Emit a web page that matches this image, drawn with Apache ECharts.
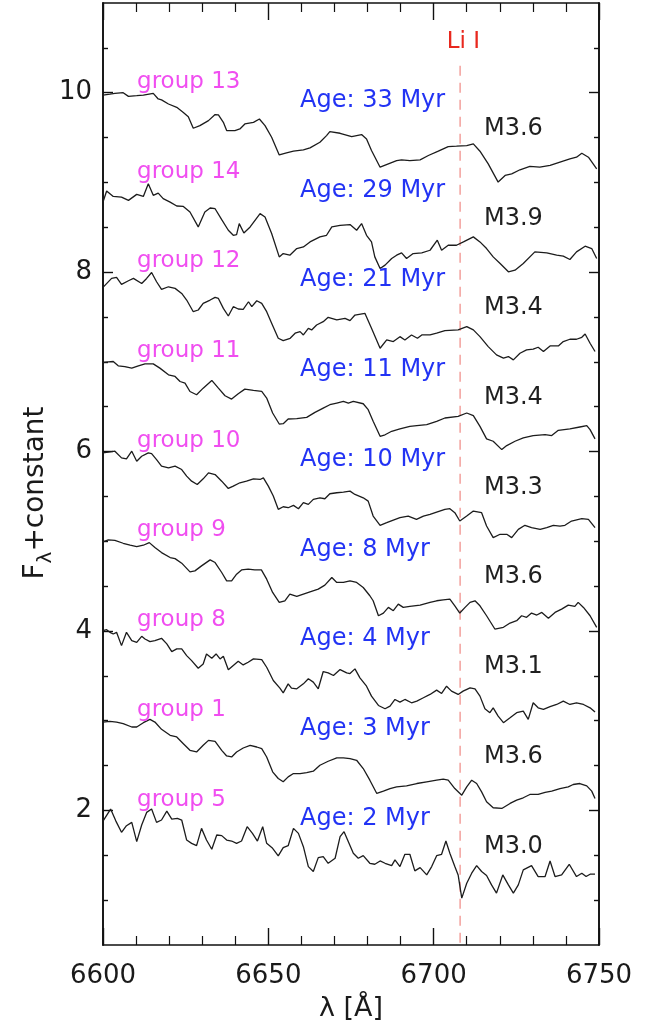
<!DOCTYPE html>
<html>
<head>
<meta charset="utf-8">
<script src="https://cdn.jsdelivr.net/npm/echarts@6.0.0/dist/echarts.min.js"></script>
<style>
  html, body { margin: 0; padding: 0; background: #ffffff; }
  #chart { width: 657px; height: 1027px; }
</style>
</head>
<body>
<div id="chart"></div>
<script>
// ---- Spectra (wavelength in Å, flux + vertical offset) ----
const wave13 = [6600.0,6602.1,6603.6,6606.1,6607.7,6610.2,6612.2,6615.2,6616.7,6617.7,6619.8,6622.3,6624.3,6625.8,6627.3,6629.3,6631.9,6633.9,6634.9,6636.4,6637.4,6639.9,6641.4,6642.9,6645.5,6647.3,6649.0,6651.0,6653.3,6655.5,6657.6,6660.6,6662.6,6665.6,6667.6,6668.6,6671.7,6675.2,6678.2,6679.7,6681.2,6683.8,6686.3,6688.8,6690.3,6692.8,6695.9,6698.4,6701.4,6704.4,6706.9,6710.0,6712.0,6714.0,6716.5,6719.5,6721.6,6723.6,6726.1,6729.1,6732.1,6735.2,6738.2,6741.2,6743.2,6744.8,6746.8,6749.3];
const flux13 = [9.974,9.985,9.993,10.0,9.959,9.967,9.974,9.993,9.93,9.92,9.874,9.837,9.78,9.733,9.604,9.633,9.689,9.756,9.752,9.67,9.578,9.578,9.596,9.652,9.67,9.707,9.633,9.504,9.307,9.33,9.348,9.363,9.385,9.448,9.522,9.567,9.548,9.511,9.533,9.485,9.356,9.17,9.207,9.244,9.252,9.244,9.252,9.3,9.348,9.4,9.404,9.411,9.43,9.348,9.207,9.004,9.078,9.096,9.141,9.178,9.17,9.189,9.226,9.263,9.281,9.326,9.281,9.152];

const wave14 = [6600.0,6601.1,6603.1,6605.6,6607.7,6610.2,6612.2,6613.7,6615.2,6616.7,6618.2,6620.3,6622.3,6624.3,6626.3,6628.8,6630.8,6632.4,6633.9,6635.9,6637.9,6639.4,6640.4,6641.2,6642.6,6644.5,6647.5,6649.0,6651.0,6653.3,6654.5,6656.5,6658.6,6660.6,6662.6,6665.6,6667.6,6669.2,6671.7,6674.7,6676.7,6678.2,6679.7,6681.2,6682.2,6683.8,6685.3,6687.3,6688.8,6690.3,6691.8,6693.8,6696.4,6698.9,6701.1,6702.4,6704.4,6706.9,6709.0,6712.0,6714.0,6716.0,6718.0,6720.1,6722.6,6724.6,6727.1,6730.6,6734.2,6737.2,6739.2,6741.2,6743.2,6745.8,6747.8,6749.3];
const flux14 = [8.781,8.904,8.844,8.837,8.8,8.867,8.844,8.985,8.856,8.881,8.819,8.781,8.737,8.733,8.67,8.504,8.67,8.715,8.707,8.585,8.467,8.411,8.419,8.541,8.437,8.504,8.652,8.615,8.43,8.17,8.207,8.189,8.263,8.281,8.337,8.393,8.411,8.504,8.522,8.53,8.467,8.541,8.411,8.337,8.17,8.041,8.078,8.152,8.189,8.215,8.152,8.207,8.215,8.244,8.356,8.244,8.3,8.3,8.337,8.393,8.337,8.263,8.17,8.096,8.004,8.022,8.096,8.226,8.215,8.189,8.178,8.141,8.226,8.289,8.263,8.152];

const wave12 = [6600.0,6602.6,6604.1,6605.6,6607.7,6609.2,6611.7,6613.2,6614.7,6616.2,6617.7,6619.8,6621.8,6623.8,6625.3,6627.3,6628.8,6630.3,6632.4,6633.9,6634.9,6636.4,6637.9,6639.4,6640.9,6642.4,6644.0,6645.0,6646.5,6648.0,6649.5,6651.0,6653.0,6654.5,6656.6,6658.1,6659.6,6660.6,6662.1,6663.1,6664.6,6666.6,6668.1,6670.7,6673.2,6674.7,6676.2,6679.2,6681.2,6683.8,6685.8,6687.8,6689.8,6691.3,6693.3,6695.1,6696.4,6698.9,6700.9,6703.4,6707.4,6710.0,6712.0,6714.0,6716.5,6719.0,6721.1,6722.6,6724.1,6726.1,6728.1,6730.1,6731.6,6733.2,6735.2,6737.7,6739.2,6741.2,6743.2,6744.8,6745.8,6747.3,6748.8];
const flux12 = [7.83,7.93,7.941,7.863,7.904,7.93,7.874,7.93,7.996,7.893,7.807,7.837,7.819,7.763,7.689,7.559,7.578,7.652,7.689,7.719,7.707,7.596,7.511,7.615,7.589,7.585,7.67,7.615,7.681,7.652,7.559,7.43,7.263,7.237,7.263,7.319,7.337,7.3,7.374,7.356,7.411,7.448,7.496,7.467,7.485,7.459,7.522,7.541,7.374,7.152,7.244,7.226,7.281,7.244,7.3,7.263,7.3,7.3,7.319,7.348,7.356,7.393,7.356,7.281,7.17,7.078,7.041,7.059,7.022,7.096,7.133,7.141,7.163,7.115,7.178,7.178,7.226,7.252,7.252,7.274,7.311,7.207,7.115];

const wave11 = [6600.0,6601.6,6603.1,6604.6,6606.6,6608.7,6610.7,6612.7,6615.2,6617.2,6619.8,6621.8,6623.3,6624.8,6626.3,6628.3,6630.3,6632.9,6634.9,6636.9,6638.9,6640.9,6642.9,6645.5,6648.0,6649.5,6651.3,6653.3,6654.5,6656.0,6658.6,6661.6,6664.1,6666.6,6668.6,6670.7,6672.7,6674.2,6675.7,6678.7,6680.2,6681.7,6683.8,6685.3,6687.3,6689.8,6692.8,6694.9,6697.9,6700.9,6703.4,6707.4,6710.0,6712.0,6714.0,6716.0,6718.0,6720.6,6722.1,6724.6,6727.1,6730.1,6733.7,6735.7,6737.7,6741.2,6744.2,6746.3,6747.3,6748.8];
const flux11 = [6.993,7.0,7.004,6.956,6.948,6.93,6.956,6.978,6.978,6.93,6.856,6.837,6.781,6.763,6.67,6.633,6.707,6.793,6.707,6.622,6.585,6.644,6.696,6.681,6.67,6.596,6.43,6.307,6.311,6.363,6.367,6.381,6.437,6.485,6.522,6.541,6.559,6.541,6.559,6.533,6.467,6.337,6.17,6.187,6.226,6.252,6.281,6.289,6.3,6.337,6.374,6.393,6.43,6.4,6.281,6.141,6.115,6.022,6.067,6.115,6.152,6.178,6.189,6.178,6.237,6.252,6.274,6.289,6.244,6.141];

const wave10 = [6600.0,6601.6,6603.6,6605.6,6607.1,6608.7,6610.2,6611.7,6613.7,6614.7,6616.2,6617.7,6619.8,6621.8,6623.8,6625.3,6626.8,6628.5,6630.3,6631.9,6633.9,6635.9,6637.9,6639.4,6641.4,6643.4,6645.5,6647.5,6648.5,6650.0,6651.5,6653.0,6654.5,6656.0,6657.6,6659.1,6660.6,6662.1,6663.6,6665.6,6667.1,6668.6,6670.7,6672.7,6674.7,6676.2,6678.7,6680.2,6681.7,6683.8,6685.8,6687.8,6689.8,6692.3,6694.8,6696.9,6698.9,6700.9,6703.4,6704.9,6706.4,6707.9,6710.0,6712.0,6714.5,6716.0,6718.0,6720.1,6722.1,6723.6,6725.6,6727.6,6729.6,6732.2,6734.2,6736.2,6738.2,6739.7,6741.7,6744.8,6746.8,6748.8];
const flux10 = [5.985,5.993,6.004,5.93,5.919,6.004,5.893,5.948,5.985,5.978,5.911,5.837,5.819,5.837,5.8,5.726,5.67,5.633,5.696,5.763,5.744,5.67,5.589,5.615,5.652,5.67,5.696,5.689,5.707,5.615,5.504,5.356,5.385,5.374,5.4,5.363,5.43,5.411,5.467,5.485,5.474,5.53,5.541,5.548,5.559,5.522,5.485,5.448,5.281,5.178,5.207,5.237,5.263,5.281,5.244,5.281,5.3,5.326,5.356,5.363,5.319,5.226,5.281,5.337,5.319,5.17,5.041,5.078,5.078,5.041,5.133,5.178,5.152,5.133,5.152,5.178,5.17,5.178,5.226,5.252,5.244,5.152];

const wave9 = [6600.0,6601.6,6603.6,6606.1,6608.2,6610.2,6612.2,6614.0,6615.7,6617.7,6620.3,6621.8,6623.8,6626.3,6627.8,6629.8,6632.4,6633.9,6635.9,6637.4,6638.9,6640.4,6641.9,6643.9,6645.9,6647.9,6649.5,6651.3,6653.3,6655.0,6656.5,6658.6,6660.6,6662.6,6665.1,6667.1,6669.2,6670.7,6672.7,6674.7,6676.7,6678.7,6680.7,6681.7,6683.3,6684.8,6686.3,6687.8,6689.3,6690.8,6692.8,6695.9,6698.9,6700.9,6702.9,6704.9,6706.4,6707.9,6709.5,6711.0,6712.5,6714.0,6716.0,6718.5,6721.1,6723.1,6725.1,6726.6,6728.1,6729.6,6731.2,6732.7,6734.7,6736.7,6738.7,6740.7,6742.7,6743.7,6745.3,6747.3,6749.3];
const flux9 = [4.993,5.015,5.011,4.978,4.956,4.941,4.956,4.985,4.93,4.874,4.819,4.807,4.756,4.659,4.67,4.726,4.793,4.763,4.652,4.559,4.559,4.633,4.681,4.689,4.681,4.681,4.578,4.43,4.319,4.337,4.411,4.385,4.411,4.437,4.467,4.511,4.596,4.541,4.541,4.559,4.541,4.485,4.393,4.337,4.17,4.2,4.263,4.226,4.3,4.263,4.274,4.289,4.319,4.337,4.348,4.356,4.281,4.2,4.263,4.319,4.337,4.281,4.17,4.022,4.041,4.089,4.115,4.17,4.152,4.2,4.178,4.207,4.141,4.207,4.244,4.289,4.274,4.319,4.263,4.17,4.041];

const wave8 = [6600.0,6601.1,6602.1,6603.1,6604.1,6605.6,6607.1,6608.7,6610.2,6611.7,6612.7,6614.2,6615.7,6617.7,6619.3,6620.8,6622.3,6623.8,6625.3,6626.8,6628.8,6630.3,6631.3,6632.9,6634.2,6635.4,6636.4,6637.9,6639.4,6640.9,6642.4,6643.9,6645.5,6648.0,6649.5,6651.5,6653.5,6654.5,6656.0,6657.0,6658.6,6660.6,6662.1,6663.6,6665.1,6666.6,6668.1,6669.7,6671.7,6673.7,6674.7,6676.2,6677.7,6679.7,6681.2,6683.3,6685.3,6686.8,6688.3,6689.8,6691.3,6693.3,6694.9,6696.9,6698.9,6700.9,6702.4,6703.9,6705.4,6707.4,6708.9,6711.0,6712.5,6714.0,6715.5,6717.0,6718.0,6719.5,6721.1,6723.1,6725.1,6727.1,6728.6,6730.1,6731.6,6733.2,6735.2,6737.2,6739.2,6741.2,6743.2,6745.3,6747.3,6748.8];
const flux8 = [4.004,4.015,3.985,3.967,3.985,3.837,3.985,3.893,3.874,3.941,3.911,3.881,3.893,3.919,3.856,3.77,3.8,3.8,3.726,3.67,3.585,3.633,3.744,3.696,3.744,3.689,3.719,3.567,3.615,3.663,3.622,3.652,3.689,3.681,3.596,3.448,3.363,3.311,3.411,3.363,3.356,3.411,3.467,3.43,3.356,3.548,3.533,3.504,3.57,3.533,3.526,3.578,3.478,3.385,3.274,3.17,3.133,3.163,3.237,3.207,3.237,3.2,3.219,3.256,3.293,3.341,3.304,3.385,3.33,3.293,3.33,3.367,3.356,3.274,3.133,3.089,3.144,3.052,2.978,3.033,3.089,3.107,3.015,3.2,3.144,3.126,3.156,3.181,3.219,3.181,3.2,3.181,3.144,3.096];

const wave1 = [6600.0,6602.1,6604.1,6606.1,6608.7,6610.2,6612.2,6614.2,6615.7,6617.7,6620.3,6622.3,6624.3,6626.3,6628.3,6630.3,6631.9,6633.9,6635.9,6637.4,6638.9,6640.4,6642.4,6644.5,6646.5,6648.0,6649.5,6651.3,6653.0,6654.5,6656.0,6657.6,6659.6,6661.6,6663.6,6665.6,6668.1,6670.7,6672.7,6674.7,6676.7,6678.7,6680.7,6682.8,6684.8,6686.8,6688.8,6691.8,6694.9,6697.9,6700.9,6702.9,6704.4,6706.4,6708.5,6710.0,6711.5,6713.0,6714.5,6716.0,6718.0,6720.6,6723.1,6725.1,6727.1,6729.1,6731.6,6733.7,6735.7,6738.2,6740.7,6742.2,6744.2,6746.3,6747.8,6748.8];
const flux1 = [2.985,2.993,2.985,2.967,2.93,2.93,2.978,3.015,2.985,2.904,2.837,2.819,2.744,2.67,2.652,2.726,2.781,2.77,2.67,2.607,2.596,2.652,2.696,2.726,2.707,2.689,2.596,2.43,2.356,2.319,2.374,2.411,2.411,2.422,2.437,2.504,2.548,2.585,2.585,2.578,2.559,2.467,2.337,2.189,2.215,2.244,2.263,2.274,2.3,2.319,2.337,2.348,2.337,2.244,2.17,2.263,2.337,2.3,2.207,2.096,2.03,2.022,2.078,2.115,2.141,2.178,2.178,2.2,2.215,2.244,2.263,2.289,2.3,2.274,2.215,2.133];

const wave5 = [6600.0,6602.3,6603.9,6605.6,6607.1,6608.7,6610.2,6611.7,6613.2,6614.7,6616.2,6617.7,6619.3,6620.8,6622.5,6623.8,6625.3,6626.8,6628.3,6629.8,6631.3,6632.9,6634.4,6635.9,6637.4,6638.9,6640.4,6641.9,6643.6,6645.2,6646.7,6648.3,6649.5,6651.3,6653.0,6654.5,6656.0,6657.6,6659.1,6660.6,6662.1,6663.6,6665.1,6666.6,6668.1,6670.2,6671.7,6672.9,6674.2,6675.7,6677.2,6678.7,6680.7,6682.2,6683.8,6685.3,6687.3,6688.3,6689.8,6691.3,6692.8,6694.3,6695.9,6697.9,6699.4,6700.9,6702.4,6703.7,6704.9,6706.4,6707.4,6708.5,6710.0,6711.5,6713.0,6714.5,6716.0,6717.5,6719.0,6720.9,6722.6,6724.1,6725.6,6727.1,6729.6,6731.6,6733.7,6735.2,6736.7,6738.7,6741.0,6743.2,6744.8,6746.1,6747.3,6748.8];
const flux5 = [1.88,2.015,1.881,1.756,1.83,1.867,1.652,1.837,1.978,2.015,1.867,1.893,1.993,1.904,1.911,1.893,1.67,1.633,1.607,1.8,1.67,1.567,1.726,1.719,1.67,1.659,1.633,1.659,1.819,1.744,1.659,1.819,1.633,1.578,1.493,1.585,1.607,1.8,1.744,1.596,1.374,1.319,1.474,1.485,1.411,1.467,1.707,1.763,1.652,1.522,1.467,1.496,1.411,1.4,1.437,1.411,1.385,1.448,1.374,1.511,1.511,1.326,1.363,1.281,1.374,1.496,1.511,1.659,1.522,1.374,1.281,1.022,1.189,1.3,1.385,1.319,1.274,1.17,1.078,1.281,1.17,1.078,1.17,1.337,1.385,1.263,1.263,1.437,1.263,1.281,1.4,1.263,1.3,1.263,1.289,1.289];

// ---- Annotations, top to bottom ----
const groupNames = ['group 13', 'group 14', 'group 12', 'group 11', 'group 10', 'group 9', 'group 8', 'group 1', 'group 5'];
const ageLabels  = ['Age: 33 Myr', 'Age: 29 Myr', 'Age: 21 Myr', 'Age: 11 Myr', 'Age: 10 Myr', 'Age: 8 Myr', 'Age: 4 Myr', 'Age: 3 Myr', 'Age: 2 Myr'];
const sptLabels  = ['M3.6', 'M3.9', 'M3.4', 'M3.4', 'M3.3', 'M3.6', 'M3.1', 'M3.6', 'M3.0'];
const baseLevels = [10, 9, 8, 7, 6, 5, 4, 3, 2];

// Li I 6708 Å line
const liWave = 6708;
const liLabel = 'Li I';

// Axis ticks
const xTicks = [6600, 6650, 6700, 6750];
const yMajorTicks = [2, 4, 6, 8, 10];
const yMinorTicks = [1, 1.5, 2.5, 3, 3.5, 4.5, 5, 5.5, 6.5, 7, 7.5, 8.5, 9, 9.5, 10.5];

const spectra = [
  [wave13, flux13], [wave14, flux14], [wave12, flux12], [wave11, flux11],
  [wave10, flux10], [wave9, flux9], [wave8, flux8], [wave1, flux1], [wave5, flux5]
];

const FONT = '"DejaVu Sans", "Liberation Sans", Arial, sans-serif';
const frameColor = '#111111';
const textColor = '#1a1a1a';

const series = [];

// Li I reference line (drawn first so spectra sit on top)
series.push({
  type: 'line',
  data: [[liWave, 10.3], [liWave, 0.5]],
  symbol: 'none',
  silent: true,
  lineStyle: { color: '#f3a09c', width: 1.5, type: [10, 7] },
  z: 1
});

spectra.forEach(([w, f]) => {
  series.push({
    type: 'line',
    data: w.map((x, i) => [x, f[i]]),
    symbol: 'none',
    silent: true,
    lineStyle: { color: '#1c1c1c', width: 1.3 },
    z: 3
  });
});

function textSeries(items, color, size, align) {
  return {
    type: 'scatter',
    symbolSize: 0,
    silent: true,
    itemStyle: { opacity: 1 },
    data: items,
    label: {
      show: true,
      position: align === 'center' ? 'inside' : 'right',
      distance: 0,
      opacity: 1,
      formatter: p => p.name,
      color: color,
      fontSize: size,
      fontFamily: FONT,
      textBorderWidth: 0
    },
    z: 5
  };
}

series.push(textSeries(groupNames.map((n, i) => ({ name: n, value: [6610.3, baseLevels[i] + 0.12] })), '#f04ef0', 23));
series.push(textSeries(ageLabels.map((n, i) => ({ name: n, value: [6659.6, baseLevels[i] - 0.09] })), '#2233f4', 24));
series.push(textSeries(sptLabels.map((n, i) => ({ name: n, value: [6715.2, baseLevels[i] - 0.4] })), '#1f1f1f', 24));
series.push(textSeries([{ name: liLabel, value: [liWave + 1.0, 10.56] }], '#e8281e', 23, 'center'));

const xCommon = {
  type: 'value',
  min: 6600,
  max: 6750,
  interval: 50,
  splitLine: { show: false },
  axisLine: { show: true, onZero: false, lineStyle: { color: frameColor, width: 1.6 } },
  axisTick: { show: true, inside: true, length: 17, lineStyle: { color: frameColor, width: 1.4 } },
  minorTick: { show: true, splitNumber: 5, length: 9, lineStyle: { color: frameColor, width: 1.2 } },
  minorSplitLine: { show: false }
};

function yAxisDef(position, ticks, len, withLabels) {
  return {
    type: 'value',
    min: 0.5,
    max: 11,
    position: position,
    splitLine: { show: false },
    axisLine: { show: true, onZero: false, lineStyle: { color: frameColor, width: 1.6 } },
    axisTick: { show: true, inside: true, length: len, customValues: ticks, lineStyle: { color: frameColor, width: 1.4 } },
    axisLabel: withLabels
      ? { show: true, customValues: ticks, fontSize: 26, color: textColor, fontFamily: FONT, margin: 11 }
      : { show: false }
  };
}

const option = {
  backgroundColor: '#ffffff',
  animation: false,
  grid: { left: 103, right: 58, top: 3, bottom: 82, containLabel: false, outerBoundsMode: 'none' },
  xAxis: [
    Object.assign({}, xCommon, {
      position: 'bottom',
      axisLabel: {
        show: true, fontSize: 26, color: textColor, fontFamily: FONT, margin: 18,
        customValues: xTicks, formatter: v => String(v)
      },
      name: 'λ [Å]',
      nameLocation: 'middle',
      nameGap: 50,
      nameTextStyle: { fontSize: 27, color: textColor, fontFamily: FONT }
    }),
    Object.assign({}, xCommon, { position: 'top', axisLabel: { show: false } })
  ],
  yAxis: [
    yAxisDef('left', yMajorTicks, 10, true),
    yAxisDef('left', yMinorTicks, 5, false),
    yAxisDef('right', yMajorTicks, 10, false),
    yAxisDef('right', yMinorTicks, 5, false)
  ],
  // Vertical axis title with a subscript lambda
  graphic: [{
    type: 'text',
    x: 36,
    y: 493,
    rotation: Math.PI / 2,
    silent: true,
    style: {
      text: '{f|F}{s|λ}{f|+constant}',
      align: 'center',
      verticalAlign: 'middle',
      fill: textColor,
      rich: {
        f: { fontSize: 28, fontFamily: FONT, fill: textColor, lineHeight: 40, verticalAlign: 'middle' },
        s: { fontSize: 20, fontFamily: FONT, fill: textColor, lineHeight: 40, verticalAlign: 'bottom' }
      }
    }
  }],
  series: series
};

const chart = echarts.init(document.getElementById('chart'), null, { renderer: 'canvas' });
chart.setOption(option);
</script>
</body>
</html>
